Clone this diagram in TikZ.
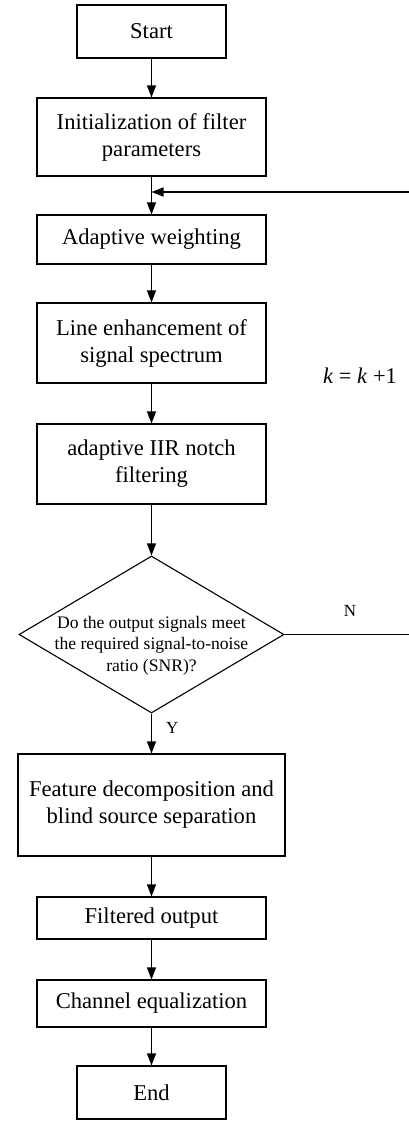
\documentclass[tikz,border=0pt]{standalone}
\usepackage{fontspec}
\setmainfont{Liberation Serif}
\usepackage{tikz}
\usetikzlibrary{arrows.meta,shapes.geometric}
\tikzset{
  box/.style      = {draw=black, line width=1.1pt, inner sep=2pt, align=center,
                     font=\fontsize{22.6}{27}\selectfont},
  term/.style     = {box, minimum width=149pt, minimum height=53pt},
  proc/.style     = {box, minimum width=229pt},
  decision/.style = {diamond, draw=black, line width=1.1pt, inner sep=0pt,
                     minimum width=265pt, minimum height=157pt},
  qtext/.style    = {align=center, inner sep=0pt,
                     font=\fontsize{17.6}{21.7}\selectfont},
  lbl/.style      = {inner sep=0pt, font=\fontsize{17}{20}\selectfont},
  note/.style     = {inner sep=0pt, font=\fontsize{22.4}{27}\selectfont},
  flow/.style     = {draw=black, line width=1.1pt,
                     -{Triangle[length=12pt,width=9pt]}},
}

\begin{document}
\begin{tikzpicture}[x=1pt,y=-1pt]
  \useasboundingbox (0,0) rectangle (408,1122);
  % main column
  \node[term] (start) at (151.5,31.5) {Start};
  \node[proc, minimum height=78pt] (init) at (151.5,137) {Initialization of filter\\parameters};
  \node[proc, minimum height=49pt] (weight) at (151.5,239.5) {Adaptive weighting};
  \node[proc, minimum height=80pt] (enh) at (151.5,343) {Line enhancement of\\signal spectrum};
  \node[proc, minimum height=80pt] (iir) at (151.5,464) {adaptive IIR notch\\filtering};
  \node[decision, label={[qtext, yshift=-11pt]center:{Do the output signals meet\\the required signal-to-noise\\ratio (SNR)?}}] (snr) at (151.5,634.5) {};
  \node[proc, minimum width=267pt, minimum height=102pt] (sep) at (151.5,805) {Feature decomposition and\\blind source separation};
  \node[proc, minimum height=42pt] (out) at (151.5,918) {Filtered output};
  \node[proc, minimum height=47pt] (equ) at (151.5,1003.5) {Channel equalization};
  \node[term] (end) at (151.5,1092.5) {End};
  \node[note] (inc) at (360,376) {\textit{k} = \textit{k} +1};
  % loop back
  \coordinate (jn) at (151.5,192);
  \coordinate (rt) at (413,192);
  \draw[flow] (start) -- (init);
  \draw[flow] (init) -- (weight);
  \draw[flow] (weight) -- (enh);
  \draw[flow] (enh) -- (iir);
  \draw[flow] (iir) -- (snr);
  \draw[flow] (snr) -- node[lbl, pos=0.37, right=14pt] {Y} (sep);
  \draw[flow] (sep) -- (out);
  \draw[flow] (out) -- (equ);
  \draw[flow] (equ) -- (end);
  \draw[flow] (snr.east) -- node[lbl, pos=0.51, above=17pt] {N} (snr.east -| rt) -- (rt) -- (jn);
\end{tikzpicture}
\end{document}
